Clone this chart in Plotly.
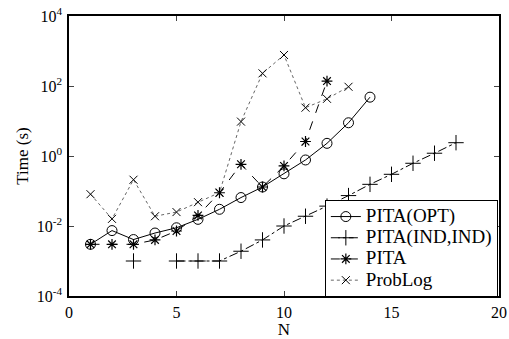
import plotly.graph_objects as go

pita_opt_n = list(range(1, 15))
pita_opt = [0.003, 0.0074, 0.0041, 0.0063, 0.0089, 0.0155, 0.030, 0.065, 0.13, 0.31, 0.77, 2.3, 8.9, 48]

pita_ind_n = list(range(3, 19))
pita_ind = [0.001, None, 0.001, 0.001, 0.001, 0.0019, 0.004, 0.01, 0.019, 0.037, 0.074, 0.155, 0.30, 0.62, 1.2, 2.4]

pita_n = list(range(1, 13))
pita = [0.003, 0.003, 0.003, 0.004, 0.0072, 0.020, 0.089, 0.58, 0.13, 0.52, 2.6, 138]

problog_n = list(range(1, 14))
problog = [0.081, 0.016, 0.21, 0.019, 0.025, 0.048, 0.09, 9.6, 230, 770, 24, 43, 95]

series_names = ["PITA(OPT)", "PITA(IND,IND)", "PITA", "ProbLog"]

ytick_vals = [1e-4, 1e-2, 1, 1e2, 1e4]
ytick_text = ["10<sup>-4</sup>", "10<sup>-2</sup>", "10<sup>0</sup>", "10<sup>2</sup>", "10<sup>4</sup>"]
xtick_vals = [0, 5, 10, 15, 20]

font = "Liberation Serif"


def lg(name):
    return '<span style="font-size:19px">' + name + '</span>'


fig = go.Figure()
fig.add_trace(go.Scatter(x=pita_opt_n, y=pita_opt, name=lg(series_names[0]), mode="lines+markers",
                         line=dict(color="black", width=1, dash="solid"),
                         marker=dict(symbol="circle-open", size=10, color="black", line=dict(width=1))))
fig.add_trace(go.Scatter(x=pita_ind_n, y=pita_ind, name=lg(series_names[1]), mode="lines+markers",
                         connectgaps=False,
                         line=dict(color="black", width=1, dash="dashdot"),
                         marker=dict(symbol="cross-thin-open", size=11, color="black", line=dict(width=1))))
fig.add_trace(go.Scatter(x=pita_n, y=pita, name=lg(series_names[2]), mode="lines+markers",
                         line=dict(color="black", width=1, dash="dash"),
                         marker=dict(symbol="asterisk-open", size=9, color="black", line=dict(width=1.2))))
fig.add_trace(go.Scatter(x=problog_n, y=problog, name=lg(series_names[3]), mode="lines+markers",
                         line=dict(color="#666666", width=1, dash="dot"),
                         marker=dict(symbol="x-thin-open", size=8, color="black", line=dict(width=1))))

fig.update_layout(
    width=509, height=339,
    margin=dict(l=69, r=10, t=16, b=43, autoexpand=False),
    paper_bgcolor="white", plot_bgcolor="white",
    font=dict(family=font, size=16, color="black"),
    showlegend=True,
    legend=dict(x=0.595, y=0.343, xanchor="left", yanchor="top",
                bgcolor="white", bordercolor="black", borderwidth=1,
                font=dict(family=font, size=14, color="black"),
                tracegroupgap=0, itemwidth=30),
    xaxis=dict(range=[0, 20], tickvals=xtick_vals, ticks="inside", ticklen=5,
               showline=True, linecolor="black", linewidth=1.5, mirror="ticks",
               showgrid=False, zeroline=False, ticklabelstandoff=1, automargin=False,
               title=dict(text="N", standoff=0, font=dict(family=font, size=17)),
               tickfont=dict(family=font, size=16)),
    yaxis=dict(type="log", range=[-4, 4], tickvals=ytick_vals, ticktext=ytick_text,
               ticks="inside", ticklen=5,
               showline=True, linecolor="black", linewidth=1.5, mirror="ticks",
               showgrid=False, zeroline=False, ticklabelstandoff=2, automargin=False,
               title=dict(text="Time (s)", standoff=4, font=dict(family=font, size=17)),
               tickfont=dict(family=font, size=16)),
)

fig.write_html("out.html")
